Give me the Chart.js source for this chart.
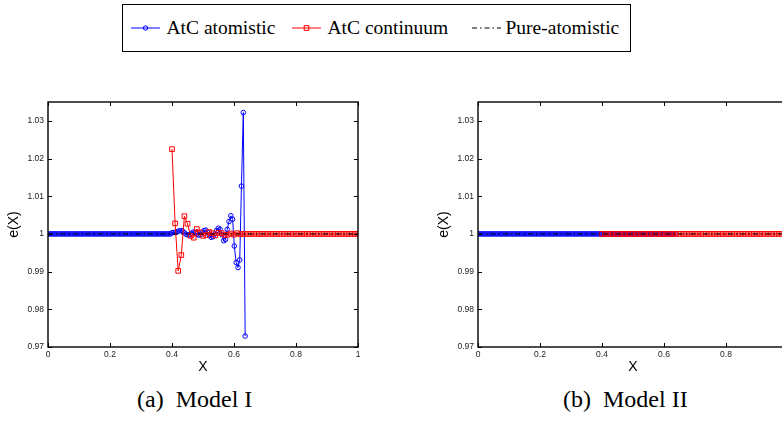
<!DOCTYPE html>
<html>
<head>
<meta charset="utf-8">
<script src="https://cdn.jsdelivr.net/npm/chart.js@4.4.1/dist/chart.umd.min.js"></script>
<style>
  html, body { margin: 0; padding: 0; background: #fff; }
  body { width: 782px; height: 426px; overflow: hidden; position: relative; font-family: "Liberation Serif", "Times New Roman", serif; }
  .legend { position: absolute; left: 122px; top: 4px; width: 507px; height: 46px; border: 1.5px solid #000; }
  .lg-ic { position: absolute; top: 18px; }
  .lg-tx { position: absolute; top: 13px; font: 19.5px/20px "Liberation Serif", "Times New Roman", serif; color: #000; white-space: nowrap; }
  .box { position: absolute; top: 90px; }
  .cap { position: absolute; top: 385px; font: 24px/28px "Liberation Serif", "Times New Roman", serif; white-space: nowrap; color: #000; }
</style>
</head>
<body>
<div class="legend">
  <svg class="lg-ic" style="left:7.5px" width="29" height="10"><line x1="0" y1="5" x2="29" y2="5" stroke="#0000ff" stroke-width="1"/><circle cx="14.5" cy="5" r="2.2" fill="none" stroke="#0000ff" stroke-width="1"/></svg>
  <div class="lg-tx" style="left:43.5px">AtC atomistic</div>
  <svg class="lg-ic" style="left:168.5px" width="29" height="10"><line x1="0" y1="5" x2="29" y2="5" stroke="#ff0000" stroke-width="1"/><rect x="12.2" y="2.7" width="4.6" height="4.6" fill="none" stroke="#ff0000" stroke-width="1"/></svg>
  <div class="lg-tx" style="left:204.5px">AtC continuum</div>
  <svg class="lg-ic" style="left:348.5px" width="29" height="10"><line x1="0" y1="5" x2="29" y2="5" stroke="#000" stroke-width="1" stroke-dasharray="5,3,1.5,3"/></svg>
  <div class="lg-tx" style="left:382.5px">Pure-atomistic</div>
</div>

<div class="box" style="left:0"><canvas id="model1" width="390" height="290"></canvas></div>
<div class="box" style="left:390px"><canvas id="model2" width="430" height="290"></canvas></div>

<div class="cap" style="left:137px">(a)&nbsp; Model I</div>
<div class="cap" style="left:563px">(b)&nbsp; Model II</div>

<script>
// axes
const X_TICKS = [0, 0.2, 0.4, 0.6, 0.8, 1];
const X_TICK_LABELS = ['0', '0.2', '0.4', '0.6', '0.8', '1'];
const Y_TICKS = [0.97, 0.98, 0.99, 1, 1.01, 1.02, 1.03];
const Y_TICK_LABELS = ['0.97', '0.98', '0.99', '1', '1.01', '1.02', '1.03'];

// atomistic sites (blue), both models
const ATOM_X = [
  0, .005, .01, .015, .02, .025, .03, .035, .04, .045, .05, .055, .06, .065, .07, .075, .08, .085, .09, .095,
  .1, .105, .11, .115, .12, .125, .13, .135, .14, .145, .15, .155, .16, .165, .17, .175, .18, .185, .19, .195,
  .2, .205, .21, .215, .22, .225, .23, .235, .24, .245, .25, .255, .26, .265, .27, .275, .28, .285, .29, .295,
  .3, .305, .31, .315, .32, .325, .33, .335, .34, .345, .35, .355, .36, .365, .37, .375, .38, .385, .39, .395,
  .4, .406, .4115, .417, .423, .429, .4345, .44, .446, .452, .4575, .463, .469, .475, .4805, .486, .492, .498,
  .5035, .509, .515, .521, .5265, .532, .538, .544, .5495, .555, .561, .567, .5725, .578, .584, .59, .5955,
  .601, .607, .613, .6185, .624, .63, .636
];
const ATOM_Y_I = [
  1, 1, 1, 1, 1, 1, 1, 1, 1, 1, 1, 1, 1, 1, 1, 1, 1, 1, 1, 1,
  1, 1, 1, 1, 1, 1, 1, 1, 1, 1, 1, 1, 1, 1, 1, 1, 1, 1, 1, 1,
  1, 1, 1, 1, 1, 1, 1, 1, 1, 1, 1, 1, 1, 1, 1, 1, 1, 1, 1, 1,
  1, 1, 1, 1, 1, 1, 1, 1, 1, 1, 1, 1, 1, 1, 1, 1, 1, 1, 1, 1,
  1.0003, 1.0004, 1.0004, 1.0006, 1.0008, 1.0009, 1.0007, 1.0003, 0.9999, 0.9997, 0.9998, 1.0002, 1.0005, 1.0004,
  1.0000, 0.9997, 0.9998, 1.0004, 1.0009, 1.0010, 1.0004, 0.9996, 0.9991, 0.9993, 1.0000, 1.0009, 1.0015, 1.0012,
  0.9998, 0.9982, 0.9985, 1.0012, 1.0033, 1.0048, 1.0039, 0.9968, 0.9924, 0.9911, 0.9931, 1.0127, 1.0322, 0.9729
];
const ATOM_Y_II = [
  1, 1, 1, 1, 1, 1, 1, 1, 1, 1, 1, 1, 1, 1, 1, 1, 1, 1, 1, 1,
  1, 1, 1, 1, 1, 1, 1, 1, 1, 1, 1, 1, 1, 1, 1, 1, 1, 1, 1, 1,
  1, 1, 1, 1, 1, 1, 1, 1, 1, 1, 1, 1, 1, 1, 1, 1, 1, 1, 1, 1,
  1, 1, 1, 1, 1, 1, 1, 1, 1, 1, 1, 1, 1, 1, 1, 1, 1, 1, 1, 1,
  1, 1, 1, 1, 1, 1, 1, 1, 1, 1, 1, 1, 1, 1,
  1, 1, 1, 1, 1, 1, 1, 1, 1, 1, 1, 1, 1, 1,
  1, 1, 1, 1, 1, 1, 1, 1, 1, 1, 1, 1, 1, 1
];

// continuum nodes (red), both models
const CONT_X = [
  .4, .41, .42, .43, .44, .45, .46, .47, .48, .49, .5, .51, .52, .53, .54, .55, .56, .57, .58, .59,
  .6, .61, .62, .63, .64, .65, .66, .67, .68, .69, .7, .71, .72, .73, .74, .75, .76, .77, .78, .79,
  .8, .81, .82, .83, .84, .85, .86, .87, .88, .89, .9, .91, .92, .93, .94, .95, .96, .97, .98, .99, 1
];
const CONT_Y_I = [
  1.0225, 1.0028, 0.9902, 0.9944, 1.0047, 1.0027, 0.9995, 0.9990, 1.0013, 1.0004, 0.9995, 0.9997, 1.0005, 1.0002,
  0.9996, 1.0003, 1.0002, 0.9997, 0.9998, 1.0001, 0.9998, 1.0002, 0.9999, 1.0000,
  1, 1, 1, 1, 1, 1, 1, 1, 1, 1, 1, 1, 1, 1, 1, 1, 1, 1, 1, 1, 1, 1, 1, 1, 1, 1, 1, 1, 1, 1, 1, 1, 1, 1, 1, 1, 1
];
const CONT_Y_II = [
  1, 1, 1, 1, 1, 1, 1, 1, 1, 1, 1, 1, 1, 1, 1, 1, 1, 1, 1, 1,
  1, 1, 1, 1, 1, 1, 1, 1, 1, 1, 1, 1, 1, 1, 1, 1, 1, 1, 1, 1,
  1, 1, 1, 1, 1, 1, 1, 1, 1, 1, 1, 1, 1, 1, 1, 1, 1, 1, 1, 1, 1
];

// pure atomistic reference (black dash-dot)
const PURE_X = [0, 1];
const PURE_Y = [1, 1];

const pts = (xs, ys) => xs.map((x, i) => ({ x, y: ys[i] }));

// matlab-style box with inward ticks
const frame = {
  id: 'frame',
  afterDatasetsDraw(chart) {
    const { ctx, chartArea: a, scales: { x, y } } = chart;
    ctx.save();
    ctx.strokeStyle = '#000';
    ctx.lineWidth = 1;
    ctx.beginPath();
    X_TICKS.forEach((v) => {
      const px = Math.round(x.getPixelForValue(v)) + 0.5;
      ctx.moveTo(px, a.bottom); ctx.lineTo(px, a.bottom - 4);
      ctx.moveTo(px, a.top); ctx.lineTo(px, a.top + 4);
    });
    Y_TICKS.forEach((v) => {
      const py = Math.round(y.getPixelForValue(v)) + 0.5;
      ctx.moveTo(a.left, py); ctx.lineTo(a.left + 4, py);
      ctx.moveTo(a.right, py); ctx.lineTo(a.right - 4, py);
    });
    ctx.stroke();
    ctx.lineWidth = 1.4;
    ctx.strokeRect(a.left, a.top, a.width, a.height);
    ctx.restore();
  }
};

const tickFont = { family: '"Liberation Sans", Arial, sans-serif', size: 8.5 };
const titleFont = { family: '"Liberation Sans", Arial, sans-serif', size: 14 };

function makeChart(id, atomY, contY, padLeft) {
  return new Chart(document.getElementById(id), {
    type: 'line',
    data: {
      datasets: [
        {
          label: 'Pure-atomistic', data: pts(PURE_X, PURE_Y), order: 0,
          borderColor: '#000', borderWidth: 1, borderDash: [5, 3, 1.5, 3], pointRadius: 0,
        },
        {
          label: 'AtC continuum', data: pts(CONT_X, contY), order: 1,
          borderColor: '#ff0000', borderWidth: 1, pointStyle: 'rect', pointRadius: 3.3,
          pointBorderWidth: 1, pointBorderColor: '#ff0000', pointBackgroundColor: 'rgba(0,0,0,0)',
        },
        {
          label: 'AtC atomistic', data: pts(ATOM_X, atomY), order: 2,
          borderColor: '#0000ff', borderWidth: 1, pointStyle: 'circle', pointRadius: 2.3,
          pointBorderWidth: 1, pointBorderColor: '#0000ff', pointBackgroundColor: 'rgba(0,0,0,0)',
        },
      ],
    },
    options: {
      responsive: false, animation: false, devicePixelRatio: 1,
      layout: { padding: { left: padLeft, top: 12, right: 32, bottom: 0 } },
      plugins: { legend: { display: false }, tooltip: { enabled: false } },
      elements: { line: { tension: 0 } },
      scales: {
        x: {
          type: 'linear', min: 0, max: 1,
          grid: { display: false, drawTicks: false }, border: { display: false },
          afterBuildTicks: (s) => { s.ticks = X_TICKS.map((v) => ({ value: v })); },
          afterFit: (s) => { s.height = 33; },
          ticks: { font: tickFont, color: '#222', padding: 3, maxRotation: 0, autoSkip: false,
            callback: (v, i) => X_TICK_LABELS[i] },
          title: { display: true, text: 'X', font: titleFont, color: '#000', padding: { top: 0, bottom: 4 } },
        },
        y: {
          type: 'linear', min: 0.97, max: 1.035,
          grid: { display: false, drawTicks: false }, border: { display: false },
          afterBuildTicks: (s) => { s.ticks = Y_TICKS.map((v) => ({ value: v })); },
          afterFit: (s) => { s.width = 48; },
          ticks: { font: tickFont, color: '#222', padding: 4, autoSkip: false,
            callback: (v, i) => Y_TICK_LABELS[i] },
          title: { display: true, text: 'e(X)', font: titleFont, color: '#000', padding: { top: 6, bottom: 0 } },
        },
      },
    },
    plugins: [frame],
  });
}

makeChart('model1', ATOM_Y_I, CONT_Y_I, 0);
makeChart('model2', ATOM_Y_II, CONT_Y_II, 40);
</script>
</body>
</html>
